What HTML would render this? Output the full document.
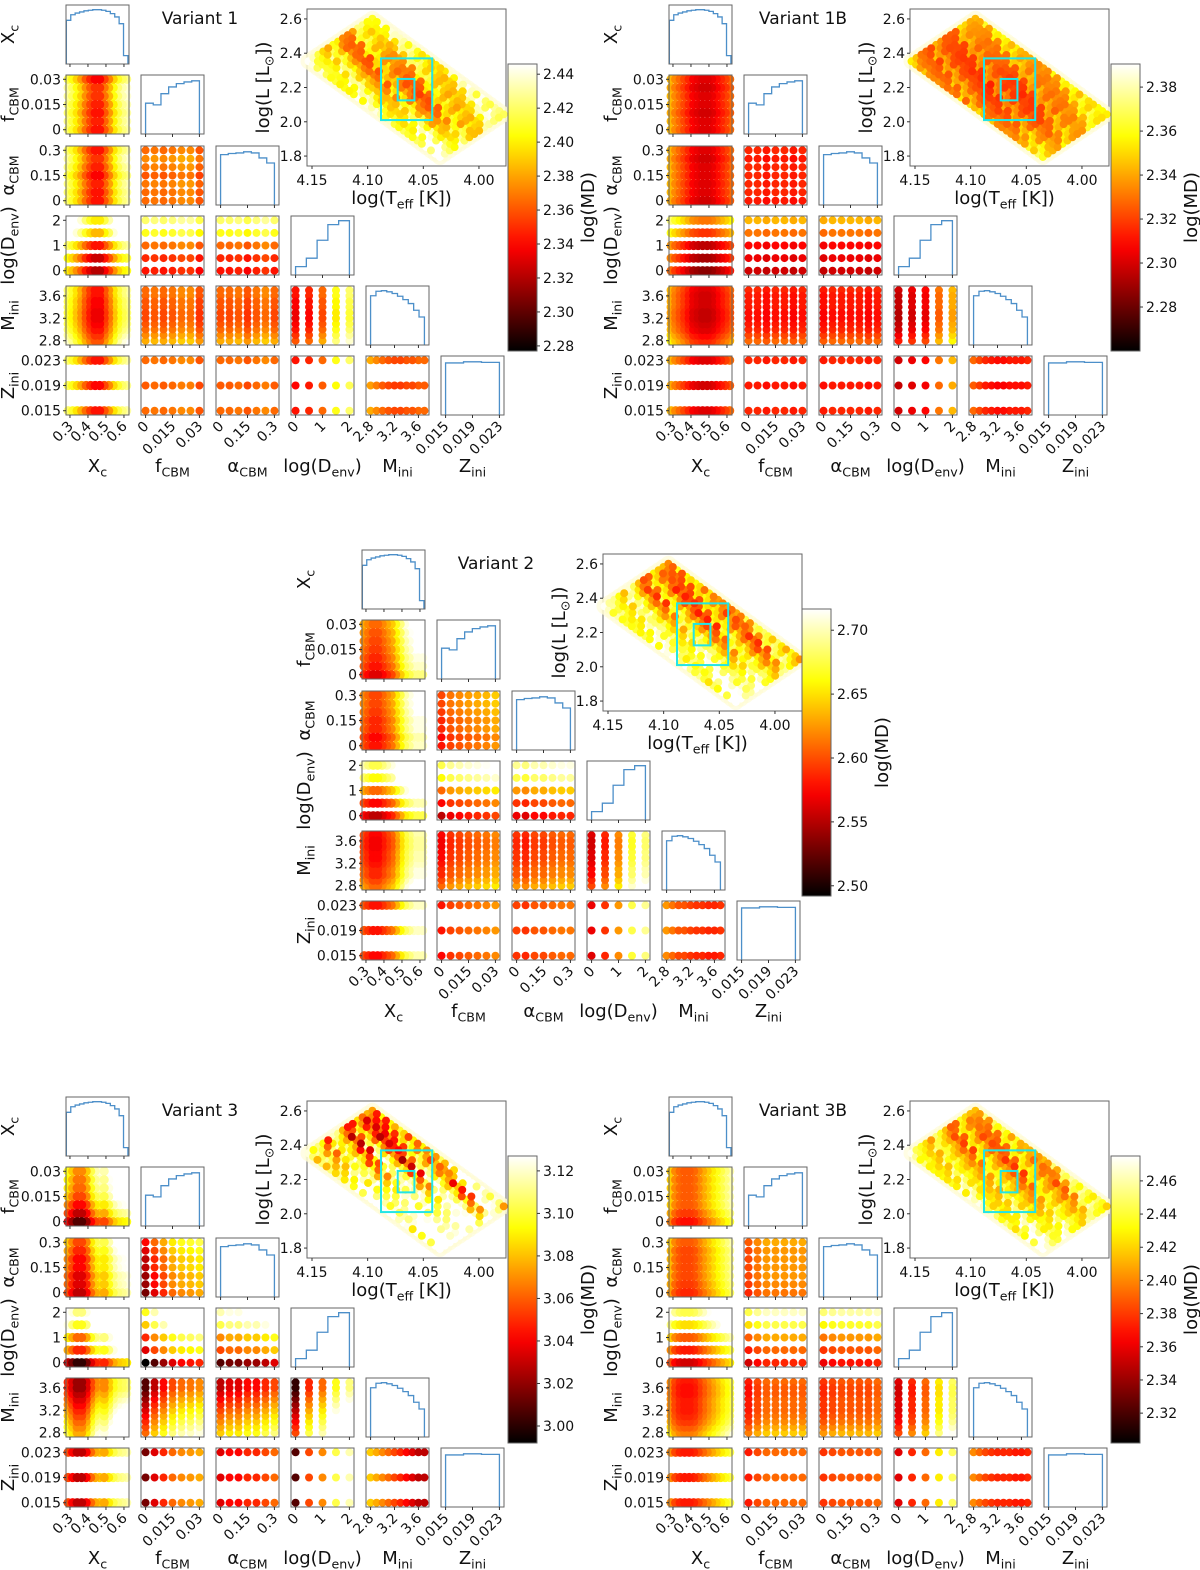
<!DOCTYPE html>
<html><head><meta charset="utf-8"><title>Corner plots</title>
<style>html,body{margin:0;padding:0;background:#fff}svg{display:block;font-family:"DejaVu Sans","Liberation Sans",sans-serif}</style>
</head><body>
<svg id="fig" width="1200" height="1570" viewBox="0 0 1200 1570" xmlns="http://www.w3.org/2000/svg">
<rect x="0" y="0" width="1200" height="1570" fill="#fff"/>
</svg>
<script>
// ---------- grids & ticks ----------
const xcGrid=[0.29,0.315,0.34,0.365,0.39,0.415,0.44,0.465,0.49,0.515,0.54,0.565,0.59,0.615];
const fGrid=[0,0.005,0.01,0.015,0.02,0.025,0.03];
const aGrid=[0,0.05,0.1,0.15,0.2,0.25,0.3];
const dGrid=[0,0.5,1,1.5,2];
const mGrid=[2.8,2.9,3.0,3.1,3.2,3.3,3.4,3.5,3.6,3.7];
const zGrid=[0.015,0.019,0.023];
const xcTicks=[0.3,0.4,0.5,0.6], xcTickLabels=["0.3","0.4","0.5","0.6"];
const fTicks=[0,0.015,0.03], fTickLabels=["0","0.015","0.03"];
const aTicks=[0,0.15,0.3], aTickLabels=["0","0.15","0.3"];
const dTicks=[0,1,2], dTickLabels=["0","1","2"];
const mTicks=[2.8,3.2,3.6], mTickLabels=["2.8","3.2","3.6"];
const zTicks=[0.015,0.019,0.023], zTickLabels=["0.015","0.019","0.023"];
const hrXTicks=[4.15,4.10,4.05,4.00], hrXTickLabels=["4.15","4.10","4.05","4.00"];
const hrYTicks=[1.8,2.0,2.2,2.4,2.6], hrYTickLabels=["1.8","2.0","2.2","2.4","2.6"];
// ---------- histograms (relative heights) ----------
const xcHist=[0.78,0.88,0.91,0.93,0.95,0.96,0.97,0.97,0.96,0.94,0.9,0.84,0.72,0.15];
const fHist=[0.55,0.52,0.72,0.84,0.9,0.93,0.95];
const aHist=[0.9,0.92,0.93,0.95,0.93,0.84,0.75];
const dHist=[0.15,0.3,0.62,0.9,0.97];
const mHist=[0.88,0.96,0.97,0.95,0.92,0.87,0.81,0.74,0.62,0.5];
const zHist=[0.93,0.95,0.94];
// ---------- MD profiles per variant (0 = dark/low, 1 = white/high) ----------
const v1Xc=[0.78,0.72,0.64,0.56,0.46,0.38,0.32,0.32,0.42,0.52,0.64,0.74,0.8,0.84];
const v1F=[0.45,0.47,0.45,0.47,0.5,0.5,0.42];
const v1A=[0.45,0.45,0.47,0.42,0.47,0.5,0.45];
const v1D=[0.32,0.35,0.45,0.7,0.78];
const v1M=[0.55,0.5,0.45,0.42,0.4,0.4,0.42,0.42,0.45,0.45];
const v1Z=[0.45,0.43,0.45];
const v1bXc=[0.62,0.55,0.5,0.45,0.4,0.34,0.32,0.3,0.3,0.32,0.36,0.4,0.44,0.5];
const v1bF=[0.4,0.4,0.38,0.4,0.4,0.38,0.4];
const v1bA=[0.38,0.4,0.4,0.4,0.4,0.38,0.4];
const v1bD=[0.28,0.32,0.35,0.52,0.62];
const v1bM=[0.5,0.45,0.4,0.38,0.36,0.36,0.38,0.38,0.38,0.4];
const v1bZ=[0.4,0.38,0.4];
const v2Xc=[0.45,0.4,0.35,0.35,0.4,0.45,0.5,0.6,0.7,0.8,0.85,0.9,0.9,0.9];
const v2F=[0.35,0.42,0.45,0.48,0.5,0.52,0.55];
const v2A=[0.42,0.4,0.45,0.45,0.48,0.5,0.5];
const v2D=[0.3,0.4,0.55,0.78,0.85];
const v2M=[0.55,0.5,0.45,0.45,0.42,0.4,0.4,0.38,0.38,0.4];
const v2Z=[0.4,0.42,0.42];
const v3Xc=[0.5,0.4,0.3,0.3,0.4,0.55,0.65,0.7,0.65,0.75,0.85,0.9,0.92,0.95];
const v3F=[0.2,0.35,0.45,0.55,0.6,0.62,0.65];
const v3A=[0.35,0.4,0.4,0.45,0.45,0.5,0.55];
const v3D=[0.15,0.5,0.6,0.85,0.95];
const v3M=[0.7,0.65,0.6,0.55,0.5,0.45,0.4,0.35,0.3,0.3];
const v3Z=[0.35,0.35,0.35];
const v3bXc=[0.55,0.45,0.4,0.38,0.38,0.4,0.45,0.5,0.55,0.6,0.65,0.7,0.75,0.8];
const v3bF=[0.38,0.45,0.5,0.5,0.5,0.5,0.5];
const v3bA=[0.42,0.45,0.47,0.47,0.47,0.47,0.5];
const v3bD=[0.3,0.4,0.5,0.7,0.82];
const v3bM=[0.55,0.5,0.45,0.42,0.4,0.4,0.4,0.38,0.38,0.4];
const v3bZ=[0.4,0.4,0.4];
// ---------- colourbar ranges & ticks ----------
const v1Cb=[2.277,2.446], v1CbTicks=[2.28,2.30,2.32,2.34,2.36,2.38,2.40,2.42,2.44];
const v1bCb=[2.26,2.3905], v1bCbTicks=[2.28,2.30,2.32,2.34,2.36,2.38];
const v2Cb=[2.492,2.7166], v2CbTicks=[2.50,2.55,2.60,2.65,2.70];
const v3Cb=[2.992,3.127], v3CbTicks=[3.00,3.02,3.04,3.06,3.08,3.10,3.12];
const v3bCb=[2.302,2.475], v3bCbTicks=[2.32,2.34,2.36,2.38,2.40,2.42,2.44,2.46];

const NS="http://www.w3.org/2000/svg";
const svg=document.getElementById('fig');
const OFF=0.12;
function mk(tag,attrs,parent){const e=document.createElementNS(NS,tag);for(const k in attrs)e.setAttribute(k,attrs[k]);parent.appendChild(e);return e;}
function hot(v){v=Math.max(0,Math.min(1,v));const r=Math.min(1,v/0.365),g=Math.max(0,Math.min(1,(v-0.365)/0.381)),b=Math.max(0,Math.min(1,(v-0.746)/0.254));return `rgb(${Math.round(r*255)},${Math.round(g*255)},${Math.round(b*255)})`;}
function clamp(v){return Math.max(0,Math.min(1,v));}
function txt(parent,x,y,parts,size,anchor,rot){
  const t=mk('text',{x:x,y:y,'font-size':size,'text-anchor':anchor||'middle',fill:'#111'},parent);
  if(rot!==undefined)t.setAttribute('transform',`rotate(${rot} ${x} ${y})`);
  let sub=false;
  parts.forEach(p=>{const s=mk('tspan',{},t);s.textContent=p[0];
    if(p[1]&&!sub){s.setAttribute('font-size',size*0.7);s.setAttribute('dy',size*0.25);sub=true;}
    else if(!p[1]&&sub){s.setAttribute('dy',-size*0.25);sub=false;}});
  return t;
}
const P=[
 {grid:xcGrid,min:0.278,max:0.628,ticks:xcTicks,tl:xcTickLabels,hist:xcHist,label:[["X",0],["c",1]],cont:true},
 {grid:fGrid,min:-0.00255,max:0.03255,ticks:fTicks,tl:fTickLabels,hist:fHist,label:[["f",0],["CBM",1]]},
 {grid:aGrid,min:-0.0255,max:0.3255,ticks:aTicks,tl:aTickLabels,hist:aHist,label:[["α",0],["CBM",1]]},
 {grid:dGrid,min:-0.17,max:2.17,ticks:dTicks,tl:dTickLabels,hist:dHist,label:[["log(D",0],["env",1],[")",0]]},
 {grid:mGrid,min:2.7235,max:3.7765,ticks:mTicks,tl:mTickLabels,hist:mHist,label:[["M",0],["ini",1]]},
 {grid:zGrid,min:0.01432,max:0.02368,ticks:zTicks,tl:zTickLabels,hist:zHist,label:[["Z",0],["ini",1]]}
];
const rowY=[5,75,146,216,286,356], PW=63, PH=59;
function sx(p,v,x0){return x0+(v-P[p].min)/(P[p].max-P[p].min)*PW;}
function sy(p,v,y0){return y0+PH-(v-P[p].min)/(P[p].max-P[p].min)*PH;}

const variants=[
 {name:"Variant 1",ox:0,oy:0,prof:[v1Xc,v1F,v1A,v1D,v1M,v1Z],cb:v1Cb,cbt:v1CbTicks,hrOff:0.26},
 {name:"Variant 1B",ox:603,oy:0,prof:[v1bXc,v1bF,v1bA,v1bD,v1bM,v1bZ],cb:v1bCb,cbt:v1bCbTicks,hrOff:0.33},
 {name:"Variant 2",ox:296,oy:545,prof:[v2Xc,v2F,v2A,v2D,v2M,v2Z],cb:v2Cb,cbt:v2CbTicks,hrOff:0.24},
 {name:"Variant 3",ox:0,oy:1092,prof:[v3Xc,v3F,v3A,v3D,v3M,v3Z],cb:v3Cb,cbt:v3CbTicks,hrOff:0.24},
 {name:"Variant 3B",ox:603,oy:1092,prof:[v3bXc,v3bF,v3bA,v3bD,v3bM,v3bZ],cb:v3bCb,cbt:v3bCbTicks,hrOff:0.27}
];

variants.forEach((V,vi)=>{
  const g=mk('g',{},svg);
  
  
  const ttl=txt(g,V.ox+200,V.oy+24,[[V.name,0]],17,'middle');
  
  
  for(let r=0;r<6;r++){for(let c=0;c<=r;c++){
    const x0=V.ox+66+75*c, y0=V.oy+rowY[r];
    const pg=mk('g',{},g);
    
    
    mk('rect',{x:x0,y:y0,width:PW,height:PH,fill:'#fff'},pg);
    if(r===c){
      const h=P[c].hist, n=h.length;
      const lo=P[c].cont?0.28:P[c].grid[0], hi=P[c].cont?0.622:P[c].grid[P[c].grid.length-1];
      let d='';
      for(let i=0;i<n;i++){
        const xa=sx(c,lo+(hi-lo)*i/n,x0), xb=sx(c,lo+(hi-lo)*(i+1)/n,x0);
        const yy=y0+PH-h[i]*(PH-3);
        d+=(i===0?`M${xa},${y0+PH} L${xa},${yy}`:` L${xa},${yy}`)+` L${xb},${yy}`;
        if(i===n-1)d+=` L${xb},${y0+PH}`;
      }
      const hp=mk('path',{d:d,fill:'none',stroke:'#4c8fc9','stroke-width':1.3},pg);
      
      
    }else{
      const pts=[];
      P[c].grid.forEach((vx,i)=>P[r].grid.forEach((vy,j)=>{pts.push([vx,vy,clamp(V.prof[c][i]+V.prof[r][j]-0.5+OFF)]);}));
      pts.sort((a,b)=>b[2]-a[2]);
      pts.forEach(p=>{
        const dot=mk('circle',{cx:sx(c,p[0],x0),cy:sy(r,p[1],y0),r:c===0?4.6:4,fill:hot(p[2])},pg);
        
        
      });
    }
    mk('rect',{x:x0,y:y0,width:PW,height:PH,fill:'none',stroke:'#666','stroke-width':1},pg);
    P[c].ticks.forEach(t=>mk('line',{x1:sx(c,t,x0),x2:sx(c,t,x0),y1:y0+PH,y2:y0+PH+3,stroke:'#333'},pg));
    if(c===0&&r>0){P[r].ticks.forEach((t,k)=>{const yy=sy(r,t,y0);mk('line',{x1:x0-3,x2:x0,y1:yy,y2:yy,stroke:'#333'},pg);
      const tl=txt(pg,x0-5,yy+5,[[P[r].tl[k],0]],14,'end');});}
    if(r===5){P[c].ticks.forEach((t,k)=>{const xx=sx(c,t,x0)+4,yy=y0+PH+12;
      const tl=txt(pg,xx,yy,[[P[c].tl[k],0]],14,'end',-45);});}
  }}
  for(let i=0;i<6;i++){
    const yl=txt(g,V.ox+14,V.oy+rowY[i]+PH/2,P[i].label,18,'middle',-90);
    
    
    const xl=txt(g,V.ox+66+75*i+PW/2,V.oy+472,P[i].label,18,'middle');
    
    
  }
  // HR diagram
  const hx=V.ox+307,hy=V.oy+9,hw=199,hh=157;
  const tX=v=>hx+(4.1545-v)/(4.1545-3.9757)*hw, lY=v=>hy+(2.658-v)/(2.658-1.742)*hh;
  const hr=mk('g',{},g);
  
  
  mk('rect',{x:hx,y:hy,width:hw,height:hh,fill:'#fff',stroke:'#666'},hr);
  const hp=[];
  const pD=V.prof[3], pF=V.prof[1];
  mGrid.forEach((m,j)=>xcGrid.forEach((xc,i)=>zGrid.forEach((z,k)=>{
    const a=(m-2.8)/0.9,b=(0.62-xc)/0.34,s=(z-0.019)/0.004;
    const T=4.04+a*0.11-b*0.06+s*0.004, L=1.81+a*0.52+b*0.26+s*0.019;
    hp.push([T,L,clamp(0.5*(V.prof[0][i]-0.55)+V.prof[4][j]+0.5*(pD[(i+j+k)%5]-0.5)+0.6*(pF[(2*i+j+k)%7]-0.45)+V.hrOff)]);
  })));
  hp.forEach(p=>{const d=mk('circle',{cx:tX(p[0]),cy:lY(p[1]),r:8,fill:'#fffbd0','fill-opacity':0.6},hr);
    
    });
  hp.sort((p,q)=>q[2]-p[2]);
  hp.forEach(p=>{const d=mk('circle',{cx:tX(p[0]),cy:lY(p[1]),r:4,fill:hot(p[2])},hr);
    
    });
  const bb=mk('rect',{x:tX(4.088),y:lY(2.37),width:tX(4.042)-tX(4.088),height:lY(2.01)-lY(2.37),fill:'none',stroke:'#22e5e5','stroke-width':2},hr);
  
  const sb=mk('rect',{x:tX(4.073),y:lY(2.25),width:tX(4.058)-tX(4.073),height:lY(2.125)-lY(2.25),fill:'none',stroke:'#22e5e5','stroke-width':2},hr);
  
  hrXTicks.forEach((t,k)=>{mk('line',{x1:tX(t),x2:tX(t),y1:hy+hh,y2:hy+hh+3,stroke:'#333'},hr);
    const l=txt(hr,tX(t),hy+hh+19,[[hrXTickLabels[k],0]],14,'middle');});
  hrYTicks.forEach((t,k)=>{mk('line',{x1:hx-3,x2:hx,y1:lY(t),y2:lY(t),stroke:'#333'},hr);
    const l=txt(hr,hx-5,lY(t)+5,[[hrYTickLabels[k],0]],14,'end');});
  const hxl=txt(hr,hx+hw/2-5,hy+hh+38,[["log(T",0],["eff",1],[" [K])",0]],18,'middle');
  
  const hyl=txt(hr,hx-38,hy+hh/2,[["log(L [L",0],["⊙",1],["])",0]],18,'middle',-90);
  
  // colourbar
  const cx=V.ox+(vi===2?506:508),cy=V.oy+64,cw=29,ch=287;
  const gid='cbg'+vi;
  const defs=mk('defs',{},g);
  const lg=mk('linearGradient',{id:gid,x1:0,y1:1,x2:0,y2:0},defs);
  for(let s=0;s<=20;s++)mk('stop',{offset:(s/20),'stop-color':hot(s/20)},lg);
  const cb=mk('rect',{x:cx,y:cy,width:cw,height:ch,fill:`url(#${gid})`,stroke:'#666'},g);
  
  const cY=v=>cy+ch-(v-V.cb[0])/(V.cb[1]-V.cb[0])*ch;
  V.cbt.forEach(t=>{mk('line',{x1:cx+cw,x2:cx+cw+3,y1:cY(t),y2:cY(t),stroke:'#333'},g);
    const l=txt(g,cx+cw+6,cY(t)+5,[[t.toFixed(2),0]],14,'start');});
  const cl=txt(g,cx+cw+57,cy+ch/2,[["log(MD)",0]],18,'middle',-90);
  
});
</script>
</body></html>
